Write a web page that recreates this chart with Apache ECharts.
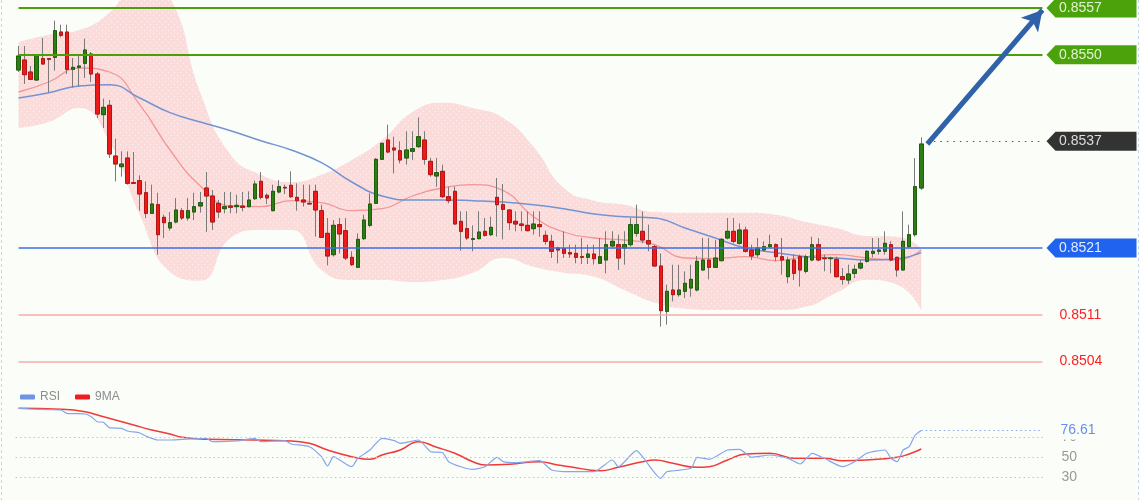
<!DOCTYPE html>
<html>
<head>
<meta charset="utf-8">
<title>EUR/GBP</title>
<script src="https://cdn.jsdelivr.net/npm/echarts@6.0.0/dist/echarts.min.js"></script>
<style>
  html, body { margin: 0; padding: 0; background: #fbfdf9; }
  #chart { width: 1140px; height: 500px; }
</style>
</head>
<body>
<div id="chart"></div>
<script>
var FONT = '"Liberation Sans", Arial, sans-serif';
var BG = '#fbfdf9';

// candles
var opens = [
  0.85477,0.85492,0.85474,0.85462,0.85494,0.85494,0.85496,0.85534,0.85534,0.85478,
  0.85481,0.85487,0.85501,0.85471,0.85410,0.85424,0.85348,0.85332,0.85345,0.85308,
  0.85311,0.85293,0.85262,0.85275,0.85256,0.85240,0.85249,0.85266,0.85255,0.85264,
  0.85273,0.85300,0.85288,0.85277,0.85269,0.85273,0.85272,0.85273,0.85272,0.85284,
  0.85310,0.85289,0.85266,0.85294,0.85301,0.85304,0.85286,0.85282,0.85277,0.85295,
  0.85266,0.85232,0.85200,0.85245,0.85236,0.85196,0.85181,0.85224,0.85244,0.85277,
  0.85343,0.85372,0.85360,0.85356,0.85345,0.85355,0.85362,0.85372,0.85340,0.85318,
  0.85325,0.85287,0.85295,0.85250,0.85239,0.85223,0.85224,0.85235,0.85230,0.85286,
  0.85275,0.85267,0.85250,0.85246,0.85244,0.85239,0.85245,0.85229,0.85220,0.85210,
  0.85209,0.85203,0.85202,0.85197,0.85196,0.85201,0.85187,0.85192,0.85213,0.85215,
  0.85210,0.85215,0.85232,0.85235,0.85221,0.85212,0.85183,0.85115,0.85147,0.85140,
  0.85145,0.85150,0.85147,0.85177,0.85192,0.85181,0.85191,0.85225,0.85235,0.85217,
  0.85237,0.85207,0.85200,0.85207,0.85212,0.85215,0.85197,0.85167,0.85192,0.85197,
  0.85175,0.85192,0.85215,0.85195,0.85194,0.85193,0.85167,0.85162,0.85172,0.85180,
  0.85190,0.85202,0.85205,0.85205,0.85215,0.85196,0.85177,0.85212,0.85230,0.85300
];
var closes = [
  0.85498,0.85470,0.85463,0.85500,0.85486,0.85493,0.85536,0.85529,0.85478,0.85481,
  0.85483,0.85507,0.85471,0.85411,0.85421,0.85351,0.85336,0.85336,0.85307,0.85307,
  0.85291,0.85262,0.85276,0.85230,0.85248,0.85248,0.85267,0.85255,0.85266,0.85272,
  0.85278,0.85288,0.85249,0.85264,0.85272,0.85271,0.85274,0.85271,0.85282,0.85306,
  0.85286,0.85285,0.85295,0.85302,0.85300,0.85287,0.85281,0.85279,0.85276,0.85267,
  0.85226,0.85198,0.85244,0.85231,0.85195,0.85185,0.85223,0.85252,0.85276,0.85343,
  0.85367,0.85354,0.85357,0.85342,0.85357,0.85359,0.85377,0.85343,0.85320,0.85323,
  0.85287,0.85281,0.85246,0.85235,0.85225,0.85224,0.85234,0.85229,0.85241,0.85275,
  0.85268,0.85248,0.85246,0.85244,0.85236,0.85246,0.85242,0.85220,0.85205,0.85207,
  0.85202,0.85201,0.85196,0.85196,0.85201,0.85194,0.85197,0.85215,0.85220,0.85195,
  0.85215,0.85245,0.85245,0.85222,0.85216,0.85183,0.85116,0.85145,0.85140,0.85147,
  0.85157,0.85163,0.85190,0.85192,0.85181,0.85195,0.85223,0.85235,0.85220,0.85237,
  0.85205,0.85198,0.85210,0.85212,0.85215,0.85197,0.85192,0.85192,0.85172,0.85177,
  0.85197,0.85215,0.85192,0.85194,0.85195,0.85167,0.85163,0.85171,0.85178,0.85187,
  0.85205,0.85205,0.85207,0.85217,0.85192,0.85177,0.85220,0.85230,0.85302,0.85366
];
var highs = [
  0.85513,0.85513,0.85483,0.85501,0.85525,0.85495,0.85551,0.85545,0.85545,0.85495,
  0.85500,0.85524,0.85504,0.85474,0.85434,0.85432,0.85374,0.85355,0.85355,0.85354,
  0.85319,0.85310,0.85305,0.85293,0.85260,0.85264,0.85285,0.85270,0.85285,0.85293,
  0.85294,0.85324,0.85297,0.85282,0.85294,0.85294,0.85290,0.85294,0.85295,0.85311,
  0.85324,0.85292,0.85305,0.85312,0.85305,0.85325,0.85307,0.85305,0.85305,0.85305,
  0.85275,0.85255,0.85252,0.85255,0.85255,0.85205,0.85232,0.85260,0.85292,0.85345,
  0.85368,0.85395,0.85377,0.85370,0.85385,0.85385,0.85406,0.85385,0.85345,0.85345,
  0.85335,0.85302,0.85302,0.85265,0.85265,0.85244,0.85265,0.85255,0.85257,0.85315,
  0.85306,0.85268,0.85265,0.85265,0.85265,0.85265,0.85265,0.85236,0.85230,0.85212,
  0.85235,0.85215,0.85215,0.85225,0.85215,0.85215,0.85225,0.85235,0.85235,0.85230,
  0.85235,0.85255,0.85275,0.85265,0.85245,0.85215,0.85202,0.85155,0.85185,0.85185,
  0.85175,0.85185,0.85198,0.85225,0.85225,0.85222,0.85225,0.85255,0.85255,0.85247,
  0.85242,0.85215,0.85225,0.85220,0.85230,0.85217,0.85225,0.85197,0.85200,0.85200,
  0.85200,0.85227,0.85225,0.85200,0.85197,0.85197,0.85180,0.85185,0.85185,0.85192,
  0.85207,0.85225,0.85225,0.85235,0.85220,0.85197,0.85265,0.85245,0.85345,0.85376
];
var lows = [
  0.85474,0.85456,0.85462,0.85461,0.85485,0.85444,0.85476,0.85526,0.85471,0.85451,
  0.85452,0.85465,0.85459,0.85405,0.85390,0.85345,0.85310,0.85317,0.85305,0.85306,
  0.85266,0.85255,0.85261,0.85200,0.85225,0.85236,0.85247,0.85252,0.85251,0.85252,
  0.85263,0.85234,0.85237,0.85255,0.85262,0.85262,0.85262,0.85265,0.85271,0.85282,
  0.85283,0.85276,0.85265,0.85292,0.85291,0.85285,0.85266,0.85272,0.85275,0.85227,
  0.85225,0.85184,0.85197,0.85202,0.85192,0.85183,0.85180,0.85222,0.85241,0.85276,
  0.85342,0.85352,0.85322,0.85337,0.85335,0.85342,0.85360,0.85335,0.85317,0.85302,
  0.85285,0.85277,0.85245,0.85206,0.85222,0.85205,0.85223,0.85227,0.85228,0.85227,
  0.85223,0.85237,0.85235,0.85235,0.85235,0.85230,0.85227,0.85215,0.85195,0.85187,
  0.85195,0.85195,0.85187,0.85186,0.85186,0.85185,0.85186,0.85172,0.85212,0.85177,
  0.85185,0.85212,0.85227,0.85217,0.85205,0.85182,0.85092,0.85095,0.85130,0.85137,
  0.85135,0.85137,0.85145,0.85176,0.85163,0.85180,0.85190,0.85223,0.85217,0.85215,
  0.85203,0.85192,0.85196,0.85205,0.85210,0.85190,0.85170,0.85157,0.85162,0.85152,
  0.85172,0.85190,0.85190,0.85175,0.85172,0.85166,0.85155,0.85156,0.85165,0.85178,
  0.85188,0.85196,0.85200,0.85200,0.85190,0.85167,0.85176,0.85211,0.85227,0.85297
];

// bollinger bands and moving averages, read every 5 bars
var bandIdx = [0,5,10,15,20,25,30,35,40,45,50,55,60,65,70,75,80,85,90,95,100,105,110,115,120,125,130,135,140,145,149];
var bbUpper = [0.85519,0.85530,0.85537,0.85563,0.85612,0.85585,0.85443,0.85350,0.85320,0.85309,0.85320,0.85342,0.85372,0.85414,0.85428,0.85420,0.85405,0.85362,0.85300,0.85281,0.85275,0.85264,0.85263,0.85263,0.85263,0.85260,0.85249,0.85240,0.85228,0.85227,0.85210];
var bbLower = [0.85390,0.85399,0.85420,0.85370,0.85260,0.85174,0.85161,0.85225,0.85237,0.85237,0.85177,0.85162,0.85162,0.85159,0.85162,0.85173,0.85195,0.85182,0.85173,0.85167,0.85147,0.85128,0.85119,0.85117,0.85117,0.85117,0.85122,0.85143,0.85162,0.85155,0.85117];
var maMid = [0.85444,0.85459,0.85480,0.85474,0.85425,0.85357,0.85303,0.85273,0.85272,0.85281,0.85278,0.85266,0.85269,0.85288,0.85300,0.85305,0.85296,0.85257,0.85234,0.85225,0.85222,0.85215,0.85195,0.85194,0.85197,0.85191,0.85197,0.85200,0.85195,0.85192,0.85207];
var maSlow = [0.85435,0.85443,0.85453,0.85455,0.85435,0.85413,0.85399,0.85386,0.85371,0.85357,0.85338,0.85309,0.85288,0.85282,0.85282,0.85281,0.85279,0.85275,0.85269,0.85261,0.85257,0.85255,0.85240,0.85225,0.85210,0.85203,0.85197,0.85195,0.85192,0.85194,0.85203];

// RSI panel
var rsiIdx = [0,2,5,7,8,11,12,13,14,15,17,18,20,21,23,25,27,31,32,36,39,40,44,45,48,50,51,52,53,55,56,58,60,62,63,66,68,70,71,73,75,77,79,80,82,86,88,91,95,98,99,102,103,106,107,111,112,114,117,119,121,124,127,129,131,133,136,138,140,143,144,145,146,147,148,149];
var rsiVal = [98.7,98,97.3,97,93.7,93,90.3,85.3,84.7,79.3,78.7,76,74,71,67,67,67.7,68.7,65.3,66,68.7,65.3,66.3,63,60.3,50.3,41,50.3,47,40.3,48.7,57,68.7,66.3,63.7,67,55.3,54.3,45.3,40.3,37.7,40.3,49.7,45.3,44.3,46.3,37,35.3,35.3,47,40.3,56.3,50.3,28.7,35.3,38.7,49.7,47.7,57,57.7,49.7,52,48.7,43,53.7,48.7,40.3,45.3,53.7,57,48.7,45.3,57,60.3,72,76.61];
var ma9Idx = [0,7,11,13,16,19,22,25,27,31,39,44,48,51,55,58,60,63,66,69,72,75,77,81,86,89,91,96,99,103,105,108,112,114,117,120,124,128,133,136,140,145,147,149];
var ma9Val = [98.7,97.7,95.3,92,87,82,77,73,69.7,67.7,67,66.3,63.7,57,50.3,47.7,52,57,65.3,59.7,53.7,45.3,42,42.7,45.3,42,40.3,36.3,39.7,45.3,47,43.7,39.7,40.3,47,53,53.7,48.7,48.7,46.3,47,49.7,53,58];
var rsiLevels = [30, 50, 70];
var lastRsi = 76.61;

// price levels
var resistLevels = [0.8557, 0.8550];
var pivotLevel = 0.8521;
var supportLevels = [0.8511, 0.8504];
var lastPrice = 0.8537;
var arrowEnd = 0.85567;

var nBars = opens.length;
var nSlots = 170;          // extra empty slots on the right for the level tags
var lastSlot = nSlots - 1;
var slots = [];
for (var i = 0; i < nSlots; i++) slots.push('b' + i);

function pairs(idx, vals) {
  return idx.map(function (k, j) { return [k, vals[j]]; });
}

var wickData = opens.map(function (o, i) { return [o, closes[i], lows[i], highs[i]]; });
var bodyData = opens.map(function (o, i) {
  return [o, closes[i], Math.min(o, closes[i]), Math.max(o, closes[i])];
});
var bandWidth = bandIdx.map(function (k, j) { return [k, bbUpper[j] - bbLower[j]]; });

// pink dotted fill for the band
var pat = document.createElement('canvas');
pat.width = 6; pat.height = 6;
var pctx = pat.getContext('2d');
pctx.fillStyle = '#fcdcdb';
pctx.fillRect(0, 0, 6, 6);
pctx.fillStyle = '#fff2f2';
pctx.fillRect(0, 0, 1, 1);
pctx.fillRect(3, 3, 1, 1);

var TAG = 'path://M0,9.5L9,0L90,0L90,19L9,19Z';
function tag(value, bg, fg) {
  return {
    coord: [lastSlot, value], value: value,
    symbol: TAG, symbolSize: [90, 19], symbolOffset: [49, 0],
    itemStyle: { color: bg },
    label: { show: true, formatter: value.toFixed(4), color: fg, fontSize: 14, fontFamily: FONT, offset: [-11, 0] }
  };
}
// horizontal level line across the whole plot
function flatLine(value, color, width, label) {
  return [
    { coord: [0, value], lineStyle: { color: color, width: width, type: 'solid' }, label: label || { show: false } },
    { coord: [lastSlot, value] }
  ];
}

var levelLines = [];
resistLevels.forEach(function (v) { levelLines.push(flatLine(v, '#4a9f0a', 2)); });
levelLines.push(flatLine(pivotLevel, '#3d6fe6', 1.5));
supportLevels.forEach(function (v) {
  levelLines.push(flatLine(v, '#f6aaaa', 1.5, {
    show: true, position: 'end', distance: 17, formatter: v.toFixed(4), color: '#ff1f1f', fontSize: 14, fontFamily: FONT
  }));
});
levelLines.push([
  { coord: [nBars, lastPrice], lineStyle: { color: '#555', width: 1, type: [1.5, 5] }, label: { show: false } },
  { coord: [lastSlot, lastPrice] }
]);
levelLines.push([
  { coord: [nBars, closes[nBars - 1]], symbol: 'none', lineStyle: { color: '#2f62a8', width: 5, type: 'solid' }, label: { show: false } },
  { coord: [lastSlot, arrowEnd], symbol: 'arrow', symbolSize: [17, 20] }
]);

var chart = echarts.init(document.getElementById('chart'));
var option = {
  backgroundColor: BG,
  animation: false,
  textStyle: { fontFamily: FONT },
  grid: [
    { left: 15.5, width: 1030, top: 0, height: 370 },
    { left: 15.5, width: 1030, top: 407, height: 90 }
  ],
  xAxis: [
    { type: 'category', data: slots, gridIndex: 0, show: false },
    { type: 'category', data: slots, gridIndex: 1, show: false }
  ],
  yAxis: [
    { type: 'value', gridIndex: 0, min: 0.85027, max: 0.85582, show: false },
    { type: 'value', gridIndex: 1, min: 10, max: 100, show: false }
  ],
  legend: {
    data: ['RSI', '9MA'], left: 15, top: 386, itemWidth: 15, itemHeight: 5, itemGap: 15,
    icon: 'roundRect',
    textStyle: { color: '#8c8c8c', fontSize: 12, fontFamily: FONT }
  },
  graphic: [
    { type: 'line', shape: { x1: 1.5, y1: 0, x2: 1.5, y2: 500 }, style: { stroke: '#c8d4ee', lineDash: [3, 3] }, silent: true },
    { type: 'line', shape: { x1: 1138.5, y1: 0, x2: 1138.5, y2: 500 }, style: { stroke: '#c8d4ee', lineDash: [3, 3] }, silent: true }
  ],
  series: [
    { name: 'bbBase', type: 'line', data: pairs(bandIdx, bbLower), stack: 'bb', smooth: true,
      symbol: 'none', lineStyle: { opacity: 0 }, silent: true, z: 1 },
    { name: 'bbFill', type: 'line', data: bandWidth, stack: 'bb', smooth: true,
      symbol: 'none', lineStyle: { opacity: 0 }, silent: true, z: 1,
      areaStyle: { color: { image: pat, repeat: 'repeat' }, opacity: 1 } },
    { name: 'maMid', type: 'line', data: pairs(bandIdx, maMid), smooth: true, symbol: 'none',
      lineStyle: { color: '#f29696', width: 1.3 }, silent: true, z: 2 },
    { name: 'maSlow', type: 'line', data: pairs(bandIdx, maSlow), smooth: true, symbol: 'none',
      lineStyle: { color: '#7393d4', width: 1.5 }, silent: true, z: 2 },
    { name: 'wicks', type: 'candlestick', data: wickData, barWidth: 4, z: 3,
      itemStyle: { color: '#777', color0: '#777', borderColor: '#7a7a7a', borderColor0: '#7a7a7a', borderWidth: 1 } },
    { name: 'bodies', type: 'candlestick', data: bodyData, barWidth: 4, z: 4,
      itemStyle: { color: '#2c7d12', color0: '#ee1a1a', borderColor: '#1f5c0c', borderColor0: '#b51414', borderWidth: 1 } },
    { name: 'levels', type: 'line', data: closes, symbol: 'none', lineStyle: { opacity: 0 }, silent: true, z: 5,
      markLine: { symbol: 'none', silent: true, animation: false, data: levelLines },
      markPoint: { silent: true, animation: false, data: [
        tag(resistLevels[0], '#4ca20b', '#e2f2d2'),
        tag(resistLevels[1], '#4ca20b', '#e2f2d2'),
        tag(lastPrice, '#333333', '#dddddd'),
        tag(pivotLevel, '#1f63ee', '#e6edff')
      ] } },
    { name: 'rsiGrid', type: 'line', xAxisIndex: 1, yAxisIndex: 1, data: pairs(rsiIdx, rsiVal),
      symbol: 'none', lineStyle: { opacity: 0 }, silent: true, z: 1,
      markLine: { symbol: 'none', silent: true, animation: false,
        data: rsiLevels.map(function (v) {
          return { yAxis: v, lineStyle: { color: '#c2c6cc', width: 1, type: [1.5, 3] },
            label: { show: true, position: 'end', distance: 16, formatter: String(v), color: '#9a9a9a', fontSize: 14, fontFamily: FONT } };
        }) } },
    { name: 'RSI', type: 'line', xAxisIndex: 1, yAxisIndex: 1, data: pairs(rsiIdx, rsiVal),
      smooth: 0.2, symbol: 'none', color: '#6f94e4', lineStyle: { color: '#86a5ea', width: 1.2 }, z: 3,
      markLine: { symbol: 'none', silent: true, animation: false, data: [[
        { coord: [nBars - 1, lastRsi], lineStyle: { color: '#8aa6e8', width: 1, type: [1.5, 3] },
          label: { show: true, position: 'end', distance: 17, formatter: lastRsi.toFixed(2), color: '#6a8ee6',
            fontSize: 14, fontFamily: FONT, backgroundColor: BG, padding: [2, 2, 2, 1] } },
        { coord: [lastSlot, lastRsi] }
      ]] } },
    { name: '9MA', type: 'line', xAxisIndex: 1, yAxisIndex: 1, data: pairs(ma9Idx, ma9Val),
      smooth: true, symbol: 'none', color: '#ee1c25', lineStyle: { color: '#f03a3a', width: 1.5 }, z: 2 }
  ]
};
chart.setOption(option);
</script>
</body>
</html>
